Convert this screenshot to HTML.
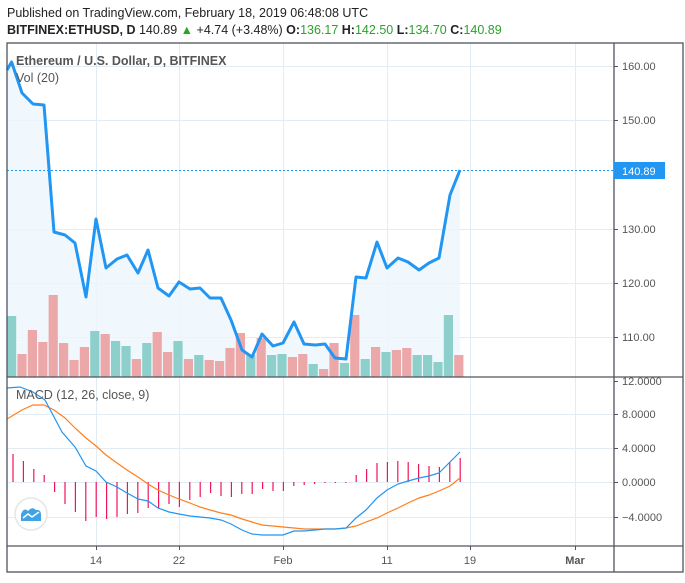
<!DOCTYPE html>
<html><head><meta charset="utf-8"><style>
body{margin:0;background:#fff;width:685px;height:578px;overflow:hidden;font-family:"Liberation Sans",sans-serif}
</style></head><body>
<svg width="685" height="578" xmlns="http://www.w3.org/2000/svg" font-family="Liberation Sans, sans-serif">
<text x="7" y="17" font-size="12.5" fill="#222">Published on TradingView.com, February 18, 2019 06:48:08 UTC</text>
<text x="7" y="34" font-size="12.5" fill="#222"><tspan font-weight="bold">BITFINEX:ETHUSD, D</tspan> 140.89 <tspan fill="#22a822">▲</tspan> +4.74 (+3.48%) <tspan font-weight="bold">O:</tspan><tspan fill="#2aa22a">136.17</tspan> <tspan font-weight="bold">H:</tspan><tspan fill="#2aa22a">142.50</tspan> <tspan font-weight="bold">L:</tspan><tspan fill="#2aa22a">134.70</tspan> <tspan font-weight="bold">C:</tspan><tspan fill="#2aa22a">140.89</tspan></text>
<g stroke="#e3ebf3" stroke-width="1">
<line x1="96.5" y1="43" x2="96.5" y2="546"/><line x1="179.5" y1="43" x2="179.5" y2="546"/><line x1="283.5" y1="43" x2="283.5" y2="546"/><line x1="387.5" y1="43" x2="387.5" y2="546"/><line x1="470.5" y1="43" x2="470.5" y2="546"/><line x1="575.5" y1="43" x2="575.5" y2="546"/>
<line x1="7" y1="66.5" x2="614" y2="66.5"/><line x1="7" y1="120.5" x2="614" y2="120.5"/><line x1="7" y1="229.5" x2="614" y2="229.5"/><line x1="7" y1="283.5" x2="614" y2="283.5"/><line x1="7" y1="337.5" x2="614" y2="337.5"/>
<line x1="7" y1="414.5" x2="614" y2="414.5"/><line x1="7" y1="448.5" x2="614" y2="448.5"/><line x1="7" y1="482.5" x2="614" y2="482.5"/><line x1="7" y1="517.5" x2="614" y2="517.5"/>
</g>
<polygon fill="#eef6fd" opacity="0.8" points="7,70 11.6,62 22,93 33,104 44,105 54,232 65,235 75,243 86,297 96,219 106,268 117,259 127,255 138,273 148,250 158,288 169,296 179,282 190,289 200,288 210,298 221,298 231,320 242,350 252,357 262,334 273,346 283,343 294,322 304,344 315,345 325,344 335,358 346,359 356,277 366,278 377,242 387,268 398,258 408,262 419,270 429,263 439,258 450,195 460,170 460,377 7,377"/>
<g id="vol"></g>
<line x1="7" y1="170.5" x2="614" y2="170.5" stroke="#2196f3" stroke-dasharray="2,2"/>
<polyline fill="none" stroke="#2196f3" stroke-width="3" stroke-linejoin="round" points="7,70 11.6,62 22,93 33,104 44,105 54,232 65,235 75,243 86,297 96,219 106,268 117,259 127,255 138,273 148,250 158,288 169,296 179,282 190,289 200,288 210,298 221,298 231,320 242,350 252,357 262,334 273,346 283,343 294,322 304,344 315,345 325,344 335,358 346,359 356,277 366,278 377,242 387,268 398,258 408,262 419,270 429,263 439,258 450,195 460,170"/>
<text x="16" y="65" font-size="12.5" font-weight="bold" fill="#555">Ethereum / U.S. Dollar, D, BITFINEX</text>
<text x="16" y="82" font-size="12.5" fill="#555">Vol (20)</text>
<g id="hist" stroke="#f0145a" stroke-width="1.2"></g>
<polyline fill="none" stroke="#ff7f1e" stroke-width="1.2" points="7,419 22,410 33,405 44,405 54,410 65,418 75,428 86,438 96,446 106,455 117,463 127,470 138,477 148,484 158,490 169,495 179,499 190,503 200,507 210,510 221,513 231,515 242,519 252,522 262,525 273,526 283,527 294,528 304,529 315,529 325,529 335,529 346,528 356,526 366,522 377,518 387,513 398,508 408,503 419,498 429,495 439,491 450,486 460,478"/>
<polyline fill="none" stroke="#2196f3" stroke-width="1.2" points="7,388 20,387 33,392 45,400 62,432 75,447 86,466 96,471 106,482 117,487 127,493 138,499 148,501 158,508 169,512 179,514 190,516 200,517 210,518 221,520 231,524 242,530 252,534 262,535 273,535 283,535 294,531 304,531 315,530 325,529 335,529 346,528 356,518 366,510 377,498 387,490 398,484 408,481 419,478 429,476 439,473 450,462 460,452"/>
<text x="16" y="399" font-size="12.5" fill="#555">MACD (12, 26, close, 9)</text>
<circle cx="31" cy="514" r="16" fill="#fff" stroke="#e6e6e6" stroke-width="1.5"/>
<path d="M21,521 L21,514 Q24,507 28,511 Q32,506 36,510 Q41,509 41,515 L41,521 Z" fill="#3fa3e6"/>
<path d="M23,518 L28,514 L32,517 L39,512" fill="none" stroke="#fff" stroke-width="1.5"/>
<g fill="none" stroke="#50535e" stroke-width="1.3">
<rect x="7" y="43" width="676" height="529"/>
<line x1="614" y1="43" x2="614" y2="572"/>
<line x1="7" y1="377" x2="683" y2="377"/>
<line x1="7" y1="546" x2="683" y2="546"/>
</g>
<g stroke="#50535e" stroke-width="1">
<line x1="614" y1="66.5" x2="618" y2="66.5"/><line x1="614" y1="120.5" x2="618" y2="120.5"/><line x1="614" y1="229.5" x2="618" y2="229.5"/><line x1="614" y1="283.5" x2="618" y2="283.5"/><line x1="614" y1="337.5" x2="618" y2="337.5"/>
<line x1="614" y1="381.5" x2="618" y2="381.5"/><line x1="614" y1="414.5" x2="618" y2="414.5"/><line x1="614" y1="448.5" x2="618" y2="448.5"/><line x1="614" y1="482.5" x2="618" y2="482.5"/><line x1="614" y1="517.5" x2="618" y2="517.5"/>
<line x1="96.5" y1="546" x2="96.5" y2="550"/><line x1="179.5" y1="546" x2="179.5" y2="550"/><line x1="283.5" y1="546" x2="283.5" y2="550"/><line x1="387.5" y1="546" x2="387.5" y2="550"/><line x1="470.5" y1="546" x2="470.5" y2="550"/><line x1="575.5" y1="546" x2="575.5" y2="550"/>
</g>
<g font-size="11" fill="#555">
<text x="622" y="70">160.00</text><text x="622" y="124">150.00</text><text x="622" y="233">130.00</text><text x="622" y="287">120.00</text><text x="622" y="341">110.00</text>
<text x="622" y="385">12.0000</text><text x="622" y="418">8.0000</text><text x="622" y="452">4.0000</text><text x="622" y="486">0.0000</text><text x="622" y="521">−4.0000</text>
</g>
<rect x="614" y="162" width="51" height="17" fill="#2196f3"/>
<text x="622" y="175" font-size="11" fill="#fff">140.89</text>
<g font-size="11" fill="#555" text-anchor="middle">
<text x="96" y="564">14</text><text x="179" y="564">22</text><text x="283" y="564">Feb</text><text x="387" y="564">11</text><text x="470" y="564">19</text><text x="575" y="564" font-weight="bold">Mar</text>
</g>
</svg>
<script>
var tops=[316,354,330,342,295,343,360,347,331,334,341,346,359,343,332,352,341,359,355,360,361,348,333,355,338,355,354,357,354,364,369,343,363,315,359,347,352,350,348,355,355,362,315,355];
var col="tttrrrrrrtrttrtrrtrtrrrrtrttrrtrrtrtrtrrttttt";
col="trrrrrrrtrttrtrrtrtrrrrtrttrrtrrtrtrtrrtttt";
var v=document.getElementById('vol'),s='';
for(var i=0;i<44;i++){var cx=11.6+10.4*i,x=cx-4.6,w=9.2;if(x<7.5){w-=7.5-x;x=7.5;}
s+='<rect x="'+x+'" y="'+tops[i]+'" width="'+w+'" height="'+(377-tops[i])+'" fill="'+(col[i]=='t'?'#8dcfca':'#eca7a8')+'"/>';}
v.innerHTML=s;
var h=[454,461,469,475,492,504,512,521,517,519,517,514,513,508,508,504,507,500,497,493,496,497,494,494,489,491,491,486,485,484,483,483,483,475,469,463,462,461,462,464,466,467,462,458];
var g=document.getElementById('hist'),t='';
for(var i=0;i<44;i++){var x=13+10.4*i;t+='<line x1="'+x+'" y1="482" x2="'+x+'" y2="'+h[i]+'"/>';}
g.innerHTML=t;
</script>
</body></html>
